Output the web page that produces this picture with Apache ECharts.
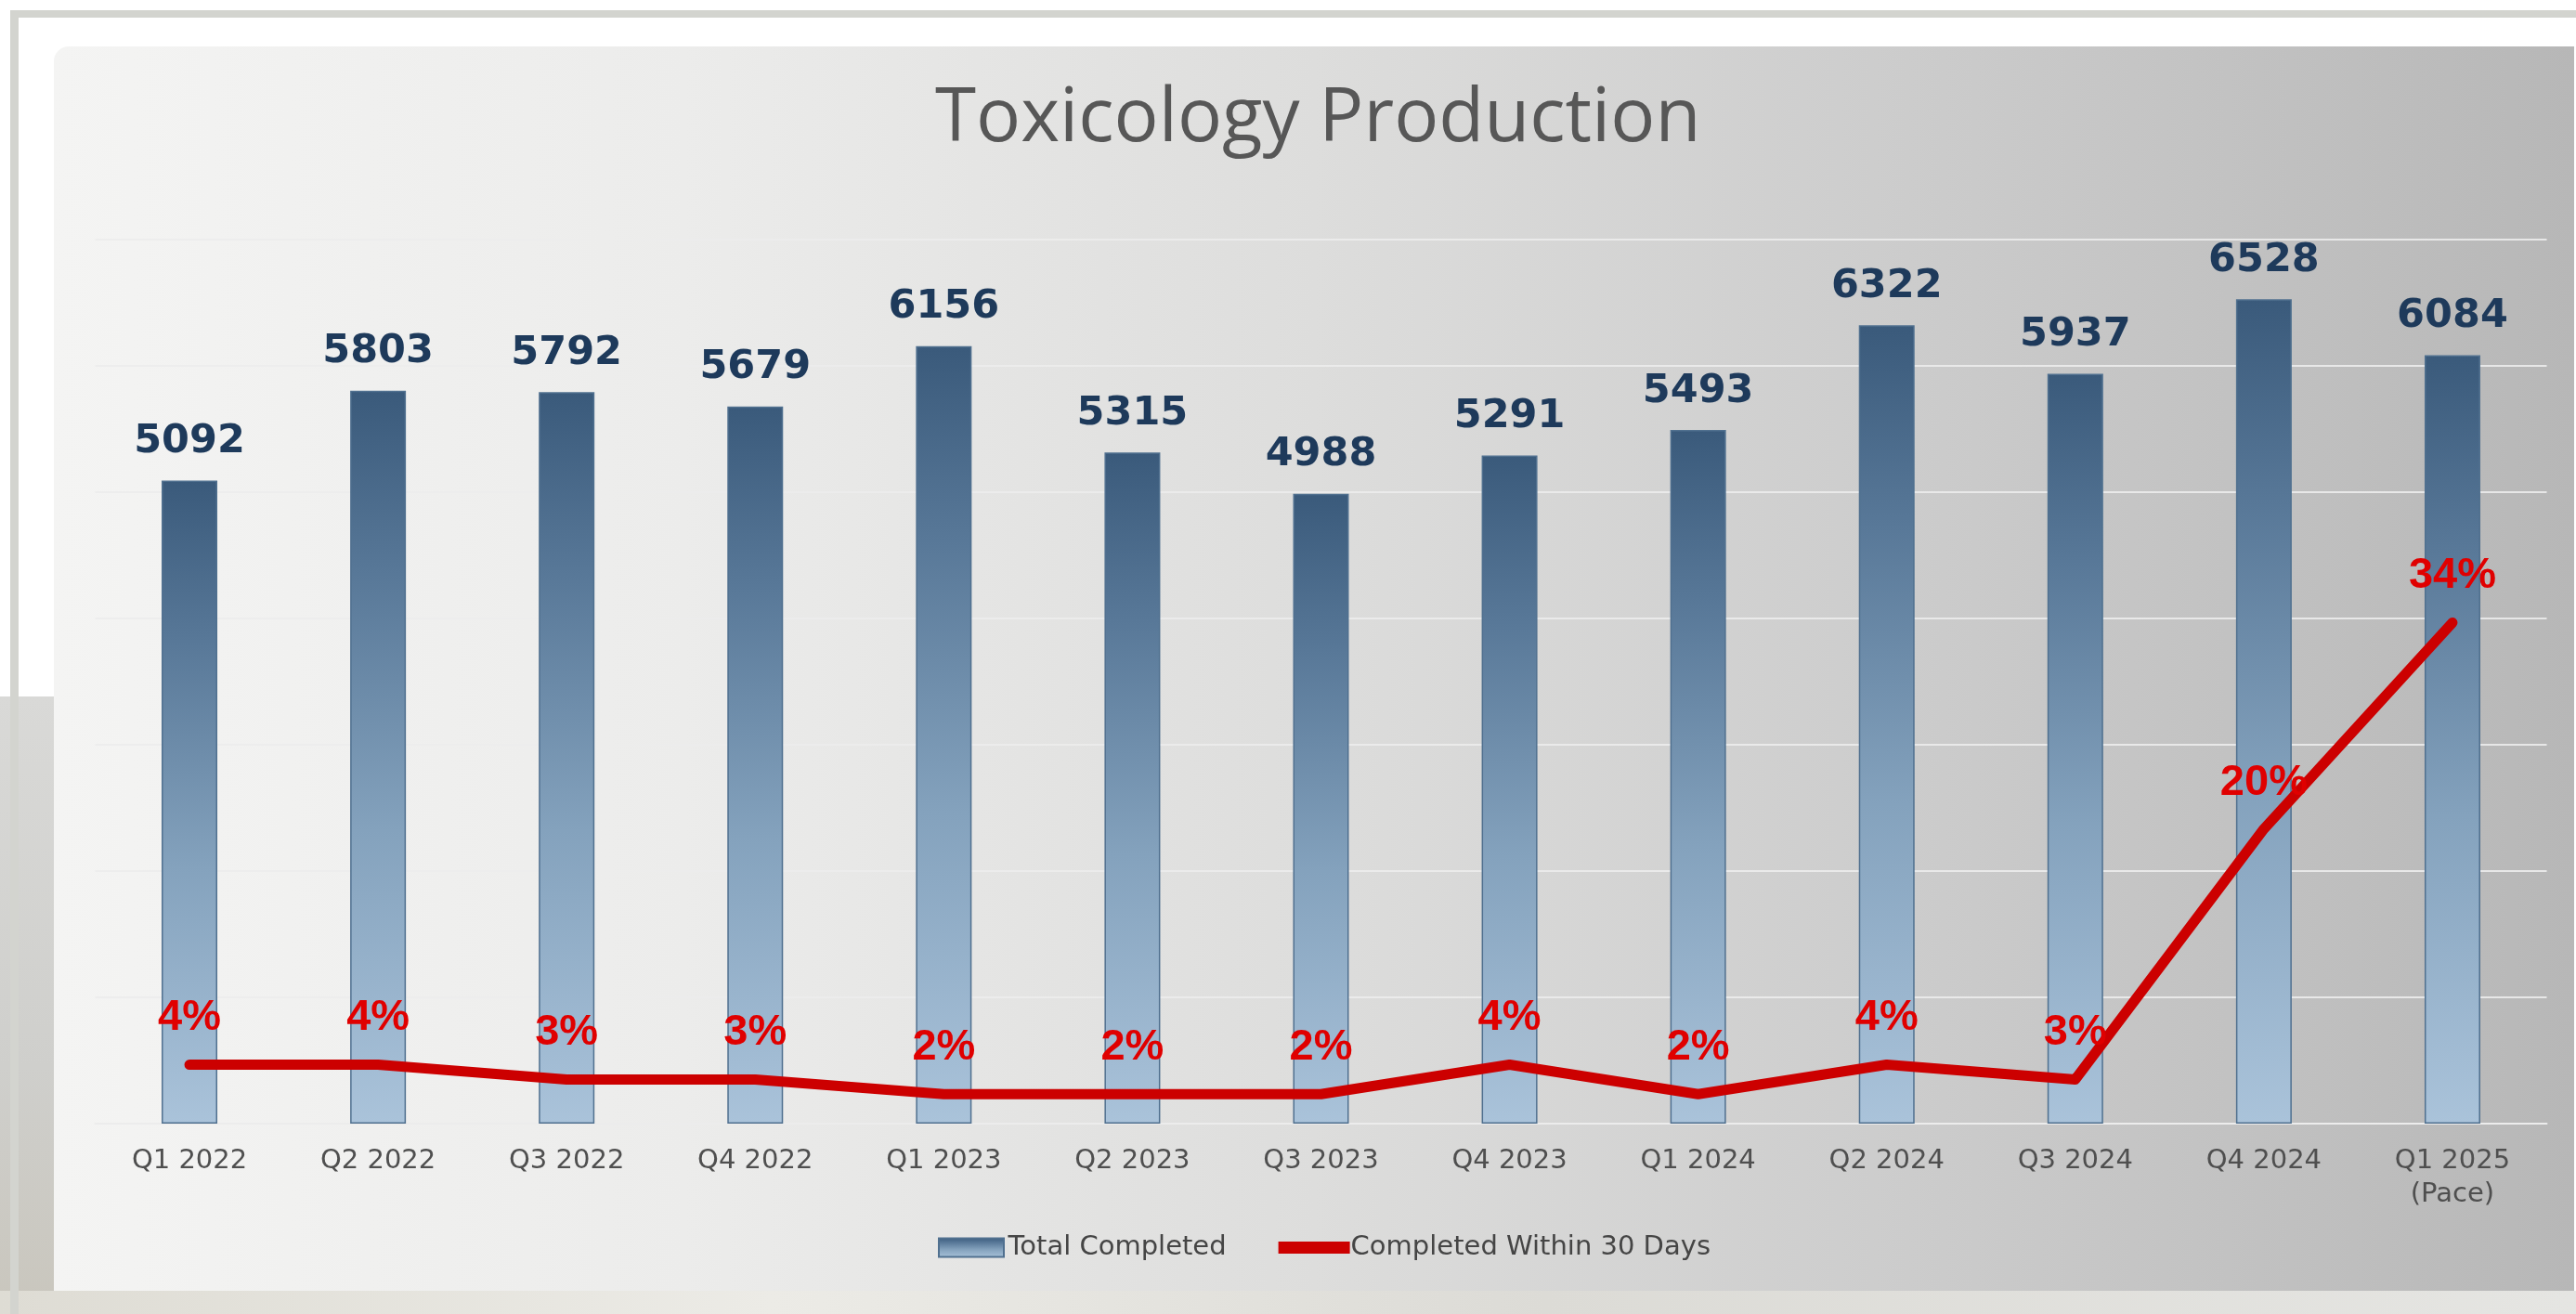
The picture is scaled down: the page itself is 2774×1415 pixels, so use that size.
<!DOCTYPE html>
<html><head><meta charset="utf-8">
<script src="https://cdn.jsdelivr.net/npm/echarts@6/dist/echarts.min.js"></script>
<style>
html,body{margin:0;padding:0;width:2774px;height:1415px;overflow:hidden;background:#fff;}
.bg{position:absolute;}
#chart{position:absolute;left:0;top:0;width:2774px;height:1415px;}
</style></head><body>
<div class="bg" style="left:0;top:750px;width:58px;height:665px;background:linear-gradient(180deg,#d9d9d7,#cfcfcc 60%,#c9c6bd)"></div>
<div class="bg" style="left:0;top:1390px;width:2774px;height:25px;background:linear-gradient(90deg,#dedcd4,#ecebe6 30%,#dcdbd6 60%,#e5e5e2)"></div>
<div class="bg" style="left:11px;top:11px;width:2763px;height:8px;background:#d3d4cf"></div>
<div class="bg" style="left:11px;top:11px;width:9px;height:1404px;background:#d3d4cf"></div>
<div class="bg" style="left:58px;top:50px;width:2714px;height:1340px;border-radius:16px 0 0 0;background:linear-gradient(90deg,#f4f4f3 0%,#ececeb 25%,#dddddc 50%,#cbcbcb 75%,#b7b7b7 100%)"></div>
<div id="chart"></div>
<script>
const categories = ['Q1 2022','Q2 2022','Q3 2022','Q4 2022','Q1 2023','Q2 2023','Q3 2023','Q4 2023','Q1 2024','Q2 2024','Q3 2024','Q4 2024','Q1 2025\n(Pace)'];
const totalCompleted = [5092,5803,5792,5679,6156,5315,4988,5291,5493,6322,5937,6528,6084];
const within30Pct = [4,4,3,3,2,2,2,4,2,4,3,20,34];
const seriesNames = ['Total Completed','Completed Within 30 Days'];

const chart = echarts.init(document.getElementById('chart'), null, {renderer:'canvas'});
const gridColor = 'rgba(236,236,236,0.9)';
chart.setOption({
  backgroundColor: 'transparent',
  animation: false,
  title: {
    text: 'Toxicology Production',
    left: 1002,
    top: 84,
    textStyle: {fontFamily: 'Open Sans', fontSize: 80, fontWeight: 'normal', color: '#575757'}
  },
  legend: {
    top: 1324,
    left: 1005,
    itemWidth: 77,
    itemHeight: 20,
    itemGap: 56,
    textStyle: {fontFamily: 'DejaVu Sans', fontSize: 29, color: '#454545', padding: [0,0,0,-4]},
    data: [
      {name: seriesNames[0], icon: 'path://M0,0h70v20h-70z'},
      {name: seriesNames[1], icon: 'path://M0,0h77v13h-77z'}
    ]
  },
  grid: {left: 102.5, right: 31.5, top: 258, bottom: 205},
  xAxis: {
    type: 'category',
    data: categories,
    axisLine: {show: true, lineStyle: {color: gridColor, width: 2}},
    axisTick: {show: false},
    axisLabel: {fontFamily: 'DejaVu Sans', fontSize: 29, color: '#4f4f4f', margin: 22, lineHeight: 36}
  },
  yAxis: [
    {type: 'value', min: 0, max: 7000, interval: 1000,
     axisLabel: {show: false}, axisLine: {show: false}, axisTick: {show: false},
     splitLine: {show: true, lineStyle: {color: gridColor, width: 2}}},
    {type: 'value', min: 0, max: 60, interval: 10,
     axisLabel: {show: false}, axisLine: {show: false}, axisTick: {show: false},
     splitLine: {show: false}}
  ],
  series: [
    {
      name: seriesNames[0],
      type: 'bar',
      data: totalCompleted,
      barWidth: 60,
      itemStyle: {
        color: new echarts.graphic.LinearGradient(0,0,0,1,[
          {offset: 0, color: '#3a5a7b'},
          {offset: 0.25, color: '#587898'},
          {offset: 0.6, color: '#84a2bd'},
          {offset: 1, color: '#aac3da'}
        ]),
        borderColor: '#50708f',
        borderWidth: 1.5
      },
      label: {
        show: true, position: 'top', distance: 20,
        fontFamily: 'DejaVu Sans', fontWeight: 'bold', fontSize: 43, color: '#1e3a5b'
      }
    },
    {
      name: seriesNames[1],
      type: 'line',
      yAxisIndex: 1,
      data: within30Pct,
      symbol: 'circle',
      symbolSize: 1,
      itemStyle: {color: '#cc0000'},
      lineStyle: {color: '#cc0000', width: 11, join: 'round', cap: 'round'},
      z: 5,
      label: {
        show: true, position: 'top', distance: 26,
        formatter: '{c}%',
        fontFamily: 'Liberation Sans', fontWeight: 'bold', fontSize: 47, color: '#e00000'
      }
    }
  ]
});
</script>
</body></html>
